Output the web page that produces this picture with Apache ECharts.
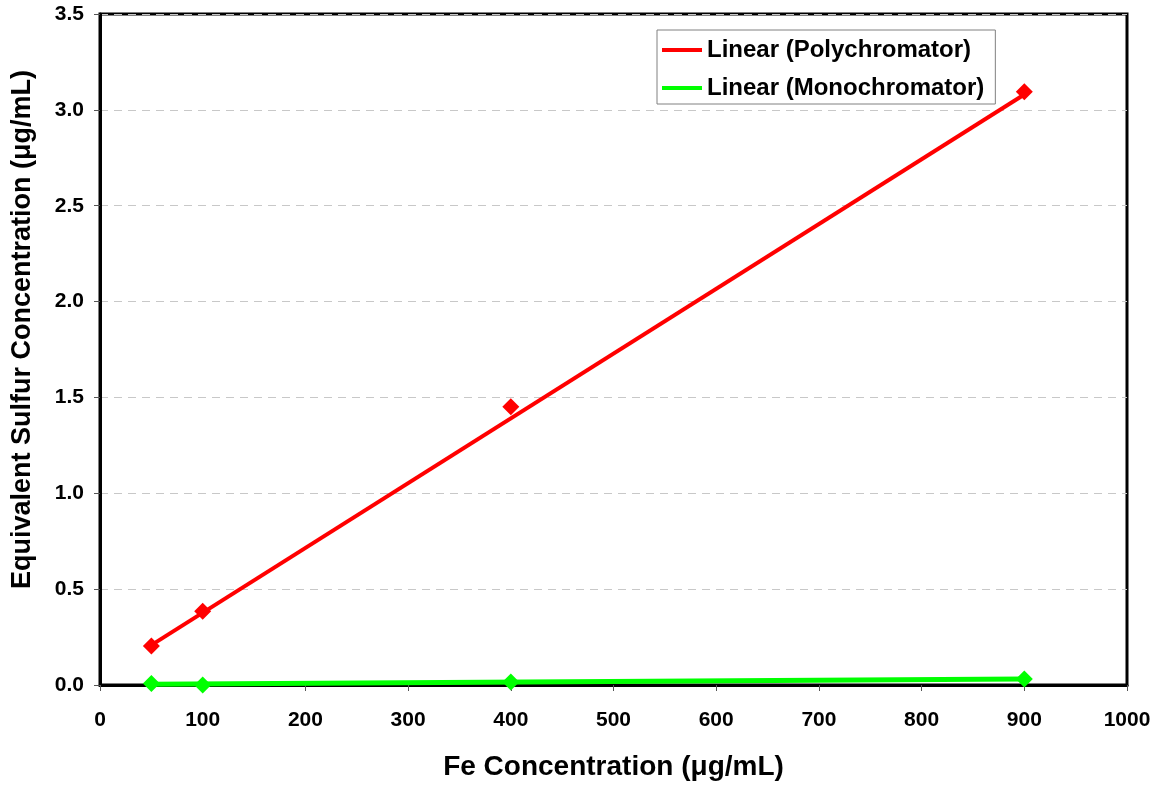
<!DOCTYPE html>
<html>
<head>
<meta charset="utf-8">
<script src="https://cdn.jsdelivr.net/npm/echarts@6/dist/echarts.min.js"></script>
<style>
* { margin: 0; padding: 0; }
html, body { width: 1159px; height: 786px; background: #fff; }
#chart { width: 1159px; height: 786px; }
</style>
</head>
<body>
<div id="chart"></div>
<script>
// measured points
var feConc = [50, 100, 400, 900];
var polyValues = [0.203, 0.385, 1.451, 3.094];
var monoValues = [0.008, 0.0, 0.015, 0.031];
// trendline ends
var trendX = [50, 900];
var polyTrend = [0.208, 3.08];
var monoTrend = [0.004, 0.031];

var font = "Liberation Sans, Arial, sans-serif";

function pairs (xs, ys) {
  return xs.map(function (x, i) { return [x, ys[i]]; });
}

var chart = echarts.init(document.getElementById("chart"));
chart.setOption({
  animation: false,
  grid: {
    left: 100,
    right: 32,
    top: 14,
    bottom: 99,
    show: true,
    borderColor: "#000",
    borderWidth: 3,
    backgroundColor: "#fff"
  },
  legend: {
    left: 657,
    top: 30,
    orient: "vertical",
    padding: [8, 11, 4, 5],
    itemGap: 14,
    itemWidth: 40,
    itemHeight: 4,
    backgroundColor: "#fff",
    borderColor: "#808080",
    borderWidth: 1,
    data: [
      { name: "Linear (Polychromator)", icon: "rect" },
      { name: "Linear (Monochromator)", icon: "rect" }
    ],
    textStyle: { fontFamily: font, fontWeight: "bold", fontSize: 24, color: "#000" }
  },
  xAxis: {
    type: "value",
    min: 0,
    max: 1000,
    interval: 100,
    name: "Fe Concentration (\u03bcg/mL)",
    nameLocation: "middle",
    nameGap: 68,
    nameTextStyle: { fontFamily: font, fontWeight: "bold", fontSize: 28, color: "#000" },
    axisLine: { lineStyle: { color: "#000", width: 3 } },
    axisTick: { inside: false, length: 6, lineStyle: { color: "#555" } },
    axisLabel: {
      fontFamily: font, fontWeight: "bold", fontSize: 21, color: "#000", margin: 25,
      formatter: function (v) { return String(v); }
    },
    splitLine: { show: false }
  },
  yAxis: {
    type: "value",
    min: 0,
    max: 3.5,
    interval: 0.5,
    name: "Equivalent Sulfur Concentration (\u03bcg/mL)",
    nameLocation: "middle",
    nameGap: 64,
    nameTextStyle: {
      fontFamily: font, fontWeight: "bold", fontSize: 27, color: "#000",
      padding: [0, 0, 0, 40]
    },
    axisLine: { lineStyle: { color: "#000", width: 3 } },
    axisTick: { inside: false, length: 6, lineStyle: { color: "#555" } },
    axisLabel: {
      fontFamily: font, fontWeight: "bold", fontSize: 21, color: "#000", margin: 16,
      formatter: function (v) { return v.toFixed(1); }
    },
    splitLine: { show: true, lineStyle: { color: "#c8c8c8", type: [8, 6], width: 1 } }
  },
  series: [
    {
      name: "Linear (Polychromator)",
      type: "line",
      data: pairs(trendX, polyTrend),
      symbol: "none",
      lineStyle: { color: "#ff0000", width: 4 },
      itemStyle: { color: "#ff0000" },
      z: 3
    },
    {
      name: "Linear (Monochromator)",
      type: "line",
      data: pairs(trendX, monoTrend),
      symbol: "none",
      lineStyle: { color: "#00ff00", width: 5 },
      itemStyle: { color: "#00ff00" },
      z: 3
    },
    {
      name: "Polychromator",
      type: "scatter",
      data: pairs(feConc, polyValues),
      symbol: "diamond",
      symbolSize: [17, 17],
      itemStyle: { color: "#ff0000", opacity: 1 },
      z: 4
    },
    {
      name: "Monochromator",
      type: "scatter",
      data: pairs(feConc, monoValues),
      symbol: "diamond",
      symbolSize: [17, 17],
      itemStyle: { color: "#00ff00", opacity: 1 },
      z: 4
    }
  ]
});
</script>
</body>
</html>
